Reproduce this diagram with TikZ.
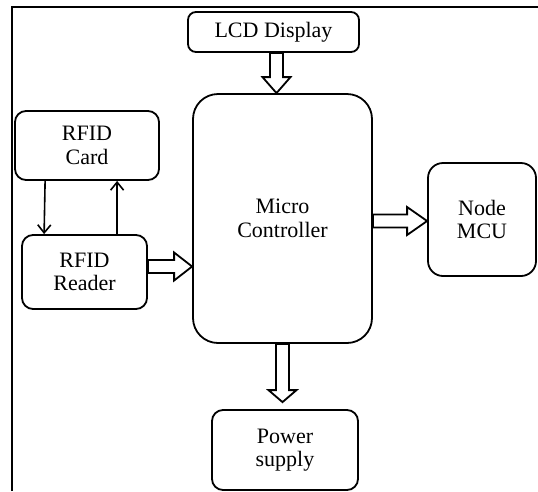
\documentclass[tikz,border=0pt]{standalone}
\usepackage{fontspec}
\setmainfont{Liberation Serif}
\usetikzlibrary{calc,arrows.meta}

\begin{document}
\begin{tikzpicture}[x=1pt, y=-1pt,
  block/.style={draw, line width=1.8pt, align=center, inner sep=0pt,
    font=\fontsize{22}{23.5}\selectfont},
  blockarrow/.style={draw, fill=white, line width=1.8pt, line join=miter,
    to path={
      ($(\tikztotarget)!#1!(\tikztostart)$) coordinate (hb)
      ($(\tikztostart)!6.5pt!90:(\tikztotarget)$)
      -- ($(hb)!6.5pt!-90:(\tikztostart)$)
      -- ($(hb)!14pt!-90:(\tikztostart)$)
      -- (\tikztotarget)
      -- ($(hb)!14pt!90:(\tikztostart)$)
      -- ($(hb)!6.5pt!90:(\tikztostart)$)
      -- ($(\tikztostart)!6.5pt!-90:(\tikztotarget)$) -- cycle}},
  blockarrow/.default=16pt,
  thinarrow/.style={line width=1.6pt, -{Straight Barb[length=8pt, width=13pt, line width=1.6pt]}}]

\useasboundingbox (0, 0) rectangle (538, 491);

\draw[line width=2.5pt] (12, 491) -- (12, 7) -- (538, 7);

\node[block, rounded corners=8pt, minimum width=171, minimum height=40] (lcd) at (273.5, 32) {LCD Display};
\node[block, rounded corners=25pt, minimum width=179, minimum height=249] (mc) at (282.5, 218.5) {Micro\\Controller};
\node[block, rounded corners=11pt, minimum width=144, minimum height=69] (card) at (87, 145.5) {RFID\\Card};
\node[block, rounded corners=11pt, minimum width=125, minimum height=74] (reader) at (84.5, 272) {RFID\\Reader};
\node[block, rounded corners=15pt, minimum width=108, minimum height=113] (mcu) at (482, 219.5) {Node\\MCU};
\node[block, rounded corners=11pt, minimum width=146, minimum height=80] (power) at (285, 450) {Power\\supply};

% hollow arrows
\draw[blockarrow] ([xshift=3pt]lcd.south) to ([xshift=-6pt]mc.north);
\draw[blockarrow=18pt] ([yshift=5.5pt]reader.east) to ([yshift=5.5pt]reader.east -| mc.west);
\draw[blockarrow=20pt] ([yshift=-2.5pt]mc.east) to ([yshift=-2.5pt]mc.east -| mcu.west);
\draw[blockarrow=12pt] (mc.south) to ([yshift=7pt]mc.south |- power.north);

% card and reader
\draw[thinarrow] ([xshift=31pt]card.south west) to ([xshift=23pt]reader.north west);
\draw[thinarrow] ([xshift=96pt]reader.north west) to ([xshift=103pt]card.south west);

\end{tikzpicture}
\end{document}
